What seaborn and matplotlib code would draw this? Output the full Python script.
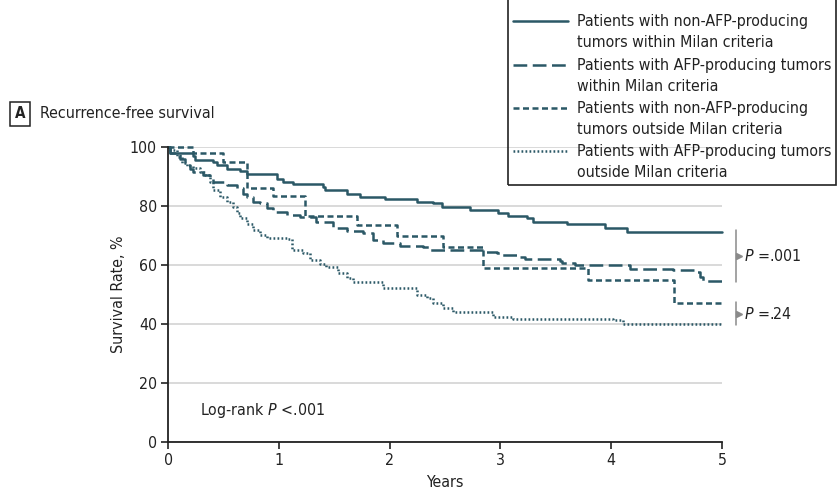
import os
import matplotlib
matplotlib.use("Agg")
import matplotlib.pyplot as plt
from matplotlib import font_manager as fm
from matplotlib.legend_handler import HandlerLine2D
from matplotlib.patches import Rectangle
import numpy as np
import pandas as pd
import seaborn as sns

# Kaplan-Meier step points (years, survival %)
solid_t = [0, 0.02, 0.23, 0.24, 0.41, 0.44, 0.53, 0.65, 0.71, 0.98, 1.04, 1.13, 1.40, 1.42, 1.62,
           1.73, 1.96, 2.25, 2.39, 2.47, 2.73, 2.98, 3.07, 3.24, 3.29, 3.60, 3.94, 4.14, 5.0]
solid_v = [100, 98, 97, 95.6, 95, 94, 92.5, 92, 91, 89, 88, 87.4, 86.4, 85.4, 84,
           83, 82.4, 81.4, 81, 79.7, 78.6, 77.6, 76.6, 76, 74.6, 73.9, 72.5, 71.2, 71.2]

longdash_t = [0, 0.02, 0.11, 0.15, 0.20, 0.23, 0.32, 0.38, 0.41, 0.53, 0.62, 0.68, 0.71, 0.77, 0.83,
              0.89, 0.95, 1.07, 1.19, 1.34, 1.49, 1.62, 1.76, 1.85, 1.94, 2.09, 2.30, 2.36, 2.84,
              2.97, 3.00, 3.18, 3.22, 3.54, 3.56, 3.67, 4.17, 4.56, 4.77, 4.80, 4.83, 5.0]
longdash_v = [100, 98, 96, 94, 92.5, 91.5, 90.5, 89.5, 88, 87, 86, 84, 83, 81.4, 81,
              79.3, 78, 77, 76.3, 74.6, 72.5, 71.5, 70.8, 68.5, 67.5, 66.4, 66, 65, 64.4,
              64, 63.4, 62.7, 62, 61.4, 60.7, 60, 58.6, 58.3, 57.6, 56, 54.6, 54.6]

shortdash_t = [0, 0.23, 0.50, 0.71, 0.95, 1.24, 1.71, 2.07, 2.48, 2.84, 3.79, 4.57, 5.0]
shortdash_v = [100, 98, 95, 86, 83.4, 76.5, 73.5, 70, 66.2, 59, 55, 47, 47]

dotted_t = [0, 0.02, 0.08, 0.13, 0.17, 0.23, 0.29, 0.33, 0.38, 0.41, 0.47, 0.53, 0.59, 0.62, 0.65,
            0.71, 0.77, 0.83, 0.89, 1.08, 1.12, 1.22, 1.28, 1.37, 1.43, 1.53, 1.62, 1.67, 1.94,
            2.25, 2.34, 2.39, 2.48, 2.57, 2.93, 3.11, 4.02, 4.11, 5.0]
dotted_v = [100, 99, 96.6, 94.6, 93.6, 93, 91.5, 90.5, 88, 85.4, 83, 81.4, 79.7, 77.5, 76,
            74, 72, 70.2, 69.2, 68.8, 65, 64, 61.7, 60.5, 59.3, 57.3, 55.6, 54.2, 52.2,
            49.8, 48.8, 47.1, 45.4, 44, 42.4, 41.7, 41.4, 40, 40]

groups = ["Patients with non-AFP-producing\ntumors within Milan criteria",
          "Patients with AFP-producing tumors\nwithin Milan criteria",
          "Patients with non-AFP-producing\ntumors outside Milan criteria",
          "Patients with AFP-producing tumors\noutside Milan criteria"]

frames = []
for g, t, v in zip(groups, [solid_t, longdash_t, shortdash_t, dotted_t],
                   [solid_v, longdash_v, shortdash_v, dotted_v]):
    frames.append(pd.DataFrame({"years": t, "rate": v, "group": g}))
df = pd.concat(frames, ignore_index=True)

line_color = "#2B5866"
text_color = "#222222"
dash_map = {groups[0]: "", groups[1]: (5.5, 2.2), groups[2]: (2.4, 1.4), groups[3]: (0.7, 0.9)}

sns.set_style("white")

# the reference uses a narrow sans; take a condensed face if one is installed
files = {os.path.basename(f.fname): f for f in fm.fontManager.ttflist}
family, stretch = "Roboto", "normal"
for name in ["NotoSans-CondensedRegular.ttf", "NotoSans-Condensed.ttf",
             "NotoSans-SemiCondensed.ttf", "NotoSans-SemiCondensedRegular.ttf",
             "LiberationSansNarrow-Regular.ttf", "DejaVuSansCondensed.ttf"]:
    if name in files:
        family, stretch = files[name].name, files[name].stretch
        break
plt.rcParams["font.family"] = [family, "DejaVu Sans"]
plt.rcParams["font.stretch"] = stretch
plt.rcParams["mathtext.fontset"] = "custom"
plt.rcParams["mathtext.rm"] = family
plt.rcParams["mathtext.it"] = family + ":italic"

fig = plt.figure(figsize=(8.38, 4.93), dpi=100)

# size the text so the widest legend line is as wide as in the reference (~256 px)
probe = fig.text(0, 0, "Patients with AFP-producing tumors", fontsize=12)
w = probe.get_window_extent(renderer=fig.canvas.get_renderer()).width
probe.remove()
fs = min(13.0, 12 * 254 / w)
fs_px = fs / 72 * 100

ax = fig.add_axes([168 / 838, 1 - 442 / 493, 554 / 838, 295 / 493])

sns.lineplot(data=df, x="years", y="rate", hue="group", style="group",
             palette={g: line_color for g in groups}, dashes=dash_map,
             drawstyle="steps-post", estimator=None, sort=False, linewidth=1.8,
             legend=False, clip_on=False, ax=ax)

ax.set_xlim(0, 5)
ax.set_ylim(0, 100)
ax.set_xticks(range(0, 6))
ax.set_yticks(range(0, 101, 20))
ax.grid(axis="y", color="#d9d9d9", linewidth=1.4)
ax.set_axisbelow(True)
for s in ["top", "right"]:
    ax.spines[s].set_visible(False)
for s in ["left", "bottom"]:
    ax.spines[s].set_color(text_color)
    ax.spines[s].set_linewidth(1.3)
ax.tick_params(axis="both", direction="out", length=5, width=1.2, color=text_color,
               labelsize=fs, labelcolor=text_color, left=True, bottom=True, pad=3)
ax.set_xlabel("Years", fontsize=fs, color=text_color, labelpad=5)
ax.set_ylabel("Survival Rate, %", fontsize=fs, color=text_color, labelpad=3)

# log-rank annotation
ax.text(0.29, 10.8, "Log-rank $\\it{P}$ <.001", fontsize=fs, va="center", color=text_color)

# P value brackets on the right
bracket = "#8a8a8a"
for lo, hi, label in [(54.6, 71.2, "=.001"), (40, 47, "=.24")]:
    ax.plot([5.125, 5.125], [lo - 0.5, hi + 0.5], color=bracket, lw=1.1, clip_on=False)
    mid = (lo + hi) / 2
    ax.plot([5.155], [mid], marker=">", color=bracket, markersize=5, clip_on=False)
    ax.text(5.2, mid, "$\\it{P}$ " + label, fontsize=fs, va="center", color=text_color)


class FirstLineHandler(HandlerLine2D):
    # put the key beside the first line of a two-line label, indented a little
    def create_artists(self, legend, orig_handle, xdescent, ydescent, width, height,
                       fontsize, trans):
        artists = super().create_artists(legend, orig_handle, xdescent, ydescent, width,
                                         height, fontsize, trans)
        for a in artists:
            xd = np.asarray(a.get_xdata(), dtype=float)
            if len(xd) == 2:
                a.set_xdata([xd[0] + 7.2, xd[1]])
            a.set_ydata(np.asarray(a.get_ydata()) + 0.72 * fontsize)
        return artists


handles = ax.get_lines()[:4]
leg = fig.legend(handles, groups, loc="lower left", bbox_to_anchor=(508 / 838, 1 - 185 / 493),
                 fontsize=fs, frameon=False, handlelength=55 / fs_px,
                 handletextpad=9 / fs_px, labelspacing=0.48, borderpad=0.3, borderaxespad=0,
                 handler_map={h: FirstLineHandler() for h in handles})
for t in leg.get_texts():
    t.set_color(text_color)
    t.set_linespacing(1.48)

# legend box runs off the top of the figure in the reference
fig.patches.append(Rectangle((508 / 838, 1 - 185 / 493), (836 - 508) / 838, 185 / 493 + 0.05,
                             transform=fig.transFigure, fill=False, ec=text_color, lw=1.2,
                             clip_on=False))

# panel title
fig.text(20 / 838, 1 - 114 / 493, "A", fontsize=fs - 0.5, fontweight="bold", ha="center",
         va="center", color=text_color,
         bbox=dict(boxstyle="square,pad=0.3", fc="white", ec=text_color, lw=1.1))
fig.text(40 / 838, 1 - 114 / 493, "Recurrence-free survival", fontsize=fs, va="center",
         color=text_color)

fig.savefig("out.png", dpi=100, facecolor="white")
